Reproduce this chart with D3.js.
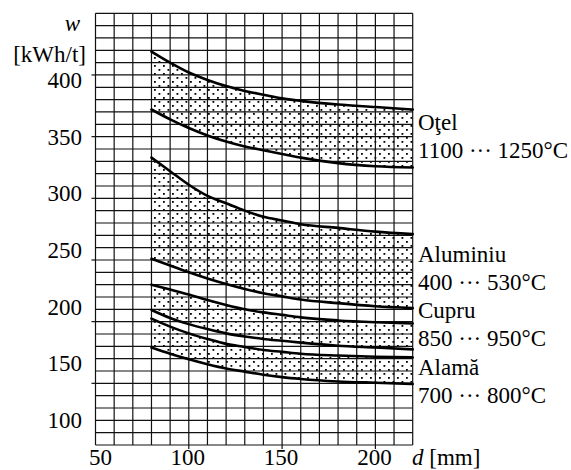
<!DOCTYPE html>
<html>
<head>
<meta charset="utf-8">
<script src="https://cdn.jsdelivr.net/npm/d3@7"></script>
<style>
  html, body { margin: 0; padding: 0; background: #fff; }
  svg { display: block; }
  text { font-family: "Liberation Serif", "Times New Roman", serif; fill: #000; }
</style>
</head>
<body>
<div id="chart"></div>
<script>
// Specific energy w [kWh/t] vs. diameter d [mm]
const diameters = [80, 90, 100, 110, 120, 130, 140, 150, 160, 180, 200, 220];

const otelUpper = [419, 410, 402, 396, 391, 387, 384, 381, 379, 376, 374, 372];
const otelLower = [372, 364, 357, 351, 346, 342, 339, 336, 333, 328.5, 326, 325];
const aluUpper = [333, 322, 311, 302, 296, 290, 285, 282, 279, 276, 273, 271];
const aluLower = [251, 245.5, 240, 235, 230.5, 226.5, 223, 220.5, 218, 215, 212.5, 211];
const cuUpper = [230, 226, 222, 217.5, 213.5, 210, 207.5, 205.5, 203.5, 201, 199.5, 198.5];
const cuLower = [209.5, 203, 198, 194, 190.5, 188, 186, 184.5, 183, 180.5, 179, 177.5];
const alamaUpper = [202.5, 196, 190.5, 186, 182, 179.5, 177, 175.5, 174, 172.5, 171.5, 171];
const alamaLower = [179, 174, 169.5, 165.5, 162, 159.5, 157, 155, 153.5, 151.5, 150.5, 149.5];

const materialNames = ['Oţel', 'Aluminiu', 'Cupru', 'Alamă'];
const temperatureRanges = ['1100 ··· 1250°C', '400 ··· 530°C', '850 ··· 950°C', '700 ··· 800°C'];

const xTickValues = [50, 100, 150, 200];
const yTickValues = [150, 200, 250, 300, 350, 400];
const yLabelValues = [100, 150, 200, 250, 300, 350, 400];

const bands = [
  { upper: otelUpper, lower: otelLower },
  { upper: aluUpper, lower: aluLower },
  { upper: cuUpper, lower: cuLower },
  { upper: alamaUpper, lower: alamaLower }
];

const W = 571, H = 470;
const fontSize = 23;

const svg = d3.select('#chart').append('svg')
  .attr('width', W)
  .attr('height', H);

svg.append('rect').attr('width', W).attr('height', H).attr('fill', '#fff');

const x = d3.scaleLinear().domain([50, 220]).range([95.5, 412.7]);
const y = d3.scaleLinear().domain([100, 450]).range([445, 13.3]);
// tick numbers on the scan sit slightly off the tick marks
const yLabel = d3.scaleLinear().domain([100, 400]).range([420, 80]);

// dotted fill
const defs = svg.append('defs');
const pat = defs.append('pattern')
  .attr('id', 'dots')
  .attr('patternUnits', 'userSpaceOnUse')
  .attr('width', 9)
  .attr('height', 8);
pat.append('rect').attr('x', 1).attr('y', 1).attr('width', 1.8).attr('height', 1.8).attr('fill', '#000');
pat.append('rect').attr('x', 5.5).attr('y', 5).attr('width', 1.8).attr('height', 1.8).attr('fill', '#000');

const area = d3.area()
  .x((d, i) => x(diameters[i]))
  .y0(d => y(d[0]))
  .y1(d => y(d[1]))
  .curve(d3.curveMonotoneX);

const line = d3.line()
  .x((d, i) => x(diameters[i]))
  .y(d => y(d))
  .curve(d3.curveMonotoneX);

svg.append('g').selectAll('path')
  .data(bands)
  .join('path')
  .attr('d', b => area(b.lower.map((v, i) => [v, b.upper[i]])))
  .attr('fill', 'url(#dots)');

// grid
const grid = svg.append('g')
  .attr('stroke', '#111')
  .attr('stroke-width', 1.2)
  .attr('fill', 'none');

grid.selectAll('.v')
  .data(d3.range(50, 221, 10))
  .join('line')
  .attr('x1', d => x(d)).attr('x2', d => x(d))
  .attr('y1', y(450)).attr('y2', y(100));

grid.selectAll('.h')
  .data(d3.range(100, 451, 10))
  .join('line')
  .attr('x1', x(50)).attr('x2', x(220))
  .attr('y1', d => y(d)).attr('y2', d => y(d));

// tick marks
grid.selectAll('.yt')
  .data(yTickValues)
  .join('line')
  .attr('x1', x(50) - 4).attr('x2', x(50))
  .attr('y1', d => y(d)).attr('y2', d => y(d));

grid.selectAll('.xt')
  .data(xTickValues.slice(1))
  .join('line')
  .attr('x1', d => x(d)).attr('x2', d => x(d))
  .attr('y1', y(100)).attr('y2', y(100) + 4);

// curves
const curves = svg.append('g')
  .attr('fill', 'none')
  .attr('stroke', '#000')
  .attr('stroke-width', 2.6)
  .attr('stroke-linecap', 'round');

bands.forEach(b => {
  curves.append('path').attr('d', line(b.upper));
  curves.append('path').attr('d', line(b.lower));
});

// tick labels
svg.append('g').selectAll('text')
  .data(yLabelValues)
  .join('text')
  .attr('x', 82)
  .attr('y', d => yLabel(d))
  .attr('dy', '0.35em')
  .attr('text-anchor', 'end')
  .attr('font-size', fontSize)
  .text(d => d);

const bottomBaseline = 465;

svg.append('g').selectAll('text')
  .data(xTickValues)
  .join('text')
  .attr('x', d => x(d))
  .attr('dx', (d, i) => i === 0 ? 5 : -1)
  .attr('y', bottomBaseline)
  .attr('text-anchor', 'middle')
  .attr('font-size', fontSize)
  .text(d => d);

// axis titles
svg.append('text')
  .attr('x', 80).attr('y', 31)
  .attr('text-anchor', 'end')
  .attr('font-size', fontSize)
  .attr('font-style', 'italic')
  .text('w');

svg.append('text')
  .attr('x', 86).attr('y', 62)
  .attr('text-anchor', 'end')
  .attr('font-size', fontSize)
  .text('[kWh/t]');

const dTitle = svg.append('text')
  .attr('x', 412).attr('y', bottomBaseline)
  .attr('font-size', fontSize);
dTitle.append('tspan').attr('font-style', 'italic').text('d');
dTitle.append('tspan').text(' [mm]');

// material labels on the right
const labelBaselines = [130, 262, 318, 375];
const lineGap = 28;

const labels = svg.append('g').attr('font-size', fontSize);
materialNames.forEach((name, i) => {
  labels.append('text')
    .attr('x', 418).attr('y', labelBaselines[i])
    .text(name);
  labels.append('text')
    .attr('x', 418).attr('y', labelBaselines[i] + lineGap)
    .text(temperatureRanges[i]);
});
</script>
</body>
</html>
